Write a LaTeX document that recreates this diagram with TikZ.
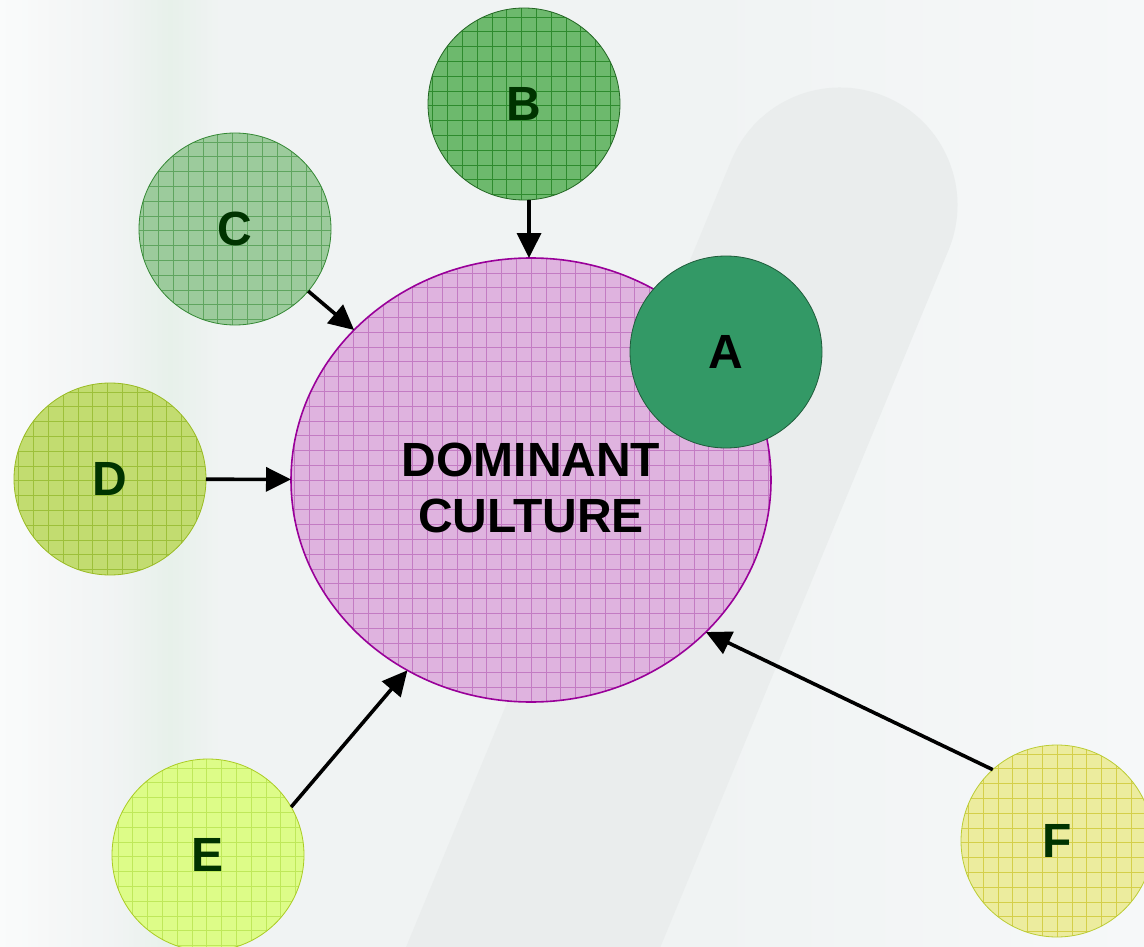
\documentclass[tikz,border=0pt]{standalone}
\usepackage{fontspec}
\setmainfont{Liberation Sans}
\usetikzlibrary{shapes.geometric,arrows.meta,calc}
\definecolor{bgcol}{HTML}{F0F3F3}
\definecolor{bgright}{HTML}{F6F8F9}
\definecolor{bandcol}{HTML}{EAEDED}
\definecolor{streak}{HTML}{E7F1EA}
\definecolor{domfill}{HTML}{DFB3DF}
\definecolor{domline}{HTML}{990099}
\definecolor{domgrid}{HTML}{B45AB4}
\definecolor{afill}{HTML}{339966}
\definecolor{aline}{HTML}{1E5C3A}
\definecolor{bfill}{HTML}{6DB96D}
\definecolor{bline}{HTML}{226622}
\definecolor{bgrid}{HTML}{2E8B2E}
\definecolor{cfill}{HTML}{9CCB9C}
\definecolor{cline}{HTML}{338833}
\definecolor{cgrid}{HTML}{5FA55F}
\definecolor{dfill}{HTML}{C2DC70}
\definecolor{dline}{HTML}{99BB22}
\definecolor{dgrid}{HTML}{9DC03A}
\definecolor{efill}{HTML}{DDFC88}
\definecolor{eline}{HTML}{AACC22}
\definecolor{egrid}{HTML}{BFE85A}
\definecolor{ffill}{HTML}{ECEC9E}
\definecolor{fline}{HTML}{BBCC33}
\definecolor{fgrid}{HTML}{D4CF4A}
\definecolor{txtgreen}{HTML}{003300}
\begin{document}
\begin{tikzpicture}[x=1pt,y=-1pt,
  bubble/.style={circle, minimum size=192pt, inner sep=0pt, outer sep=0pt,
    line width=0.8pt, font=\fontsize{48}{56}\selectfont\bfseries, text=txtgreen},
  gridded/.style={path picture={\draw[line width=0.6pt, draw=#1, step=14.8pt]
    (path picture bounding box.south west) grid (path picture bounding box.north east);}},
  link/.style={line width=3.6pt, draw=black, -{Triangle[length=25pt,width=24pt]}}]
\useasboundingbox (0,0) rectangle (1144,947);
% background
\fill[bgcol] (0,0) rectangle (1144,947);
\shade[left color=bgcol, right color=bgright] (700,0) rectangle (1144,947);
\shade[left color=white, right color=bgcol, opacity=0.7] (0,0) rectangle (130,947);
\shade[left color=bgcol, right color=bgcol, middle color=streak] (120,0) rectangle (220,947);
\draw[bandcol, line width=235pt, line cap=round] (840,205) -- (470,1100);
% dominant culture
\node[ellipse, minimum width=480pt, minimum height=444pt, inner sep=0pt, outer sep=0pt,
  fill=domfill, draw=domline, line width=1.6pt, gridded=domgrid!80] (dom) at (531,480) {};
\node[font=\fontsize{48}{56}\selectfont\bfseries, align=center, text=black, inner sep=0pt]
  (domlabel) at (531,488) {DOMINANT\\CULTURE};
% satellites
\node[bubble, fill=afill, draw=aline, text=black] (A) at (726,352) {A};
\node[bubble, fill=bfill, draw=bline, gridded=bgrid] (B) at (524,104) {B};
\node[bubble, fill=cfill, draw=cline, gridded=cgrid] (C) at (235,229) {C};
\node[bubble, fill=dfill, draw=dline, gridded=dgrid] (D) at (110,479) {D};
\node[bubble, fill=efill, draw=eline, gridded=egrid] (E) at (208,855) {E};
\node[bubble, fill=ffill, draw=fline, gridded=fgrid] (F) at (1057,841) {F};
% arrows
\draw[link] (B.-87) -- (B.-87 |- dom.north);
\draw[link] (C) -- (dom);
\draw[link] (D) -- (dom);
\draw[link] (E.30) -- (dom.-123);
\draw[link] (F.132) -- (dom.-41);
\end{tikzpicture}
\end{document}
